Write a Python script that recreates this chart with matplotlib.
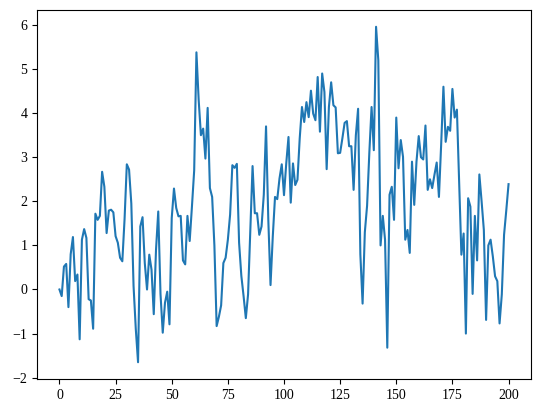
import matplotlib
matplotlib.use("Agg")
import matplotlib.pyplot as plt

plt.rcParams["font.family"] = ["Liberation Serif", "DejaVu Serif"]

# series values, one per step 0..200
values = [
    0.0, -0.15, 0.52, 0.58, -0.4, 0.8, 1.19, 0.19, 0.34, -1.13,
    1.13, 1.37, 1.17, -0.22, -0.25, -0.89, 1.72, 1.58, 1.67, 2.67,
    2.33, 1.28, 1.79, 1.81, 1.75, 1.21, 1.06, 0.72, 0.64, 1.6,
    2.84, 2.72, 1.95, 0.08, -0.9, -1.65, 1.43, 1.64, 0.6, 0.0,
    0.79, 0.45, -0.56, 0.9, 1.77, -0.1, -0.98, -0.3, -0.05, -0.79,
    1.62, 2.29, 1.85, 1.66, 1.67, 0.66, 0.57, 1.67, 1.1, 1.88,
    2.7, 5.38, 4.3, 3.5, 3.65, 2.97, 4.12, 2.3, 2.1, 1.0,
    -0.83, -0.62, -0.36, 0.6, 0.72, 1.13, 1.7, 2.82, 2.76, 2.85,
    1.06, 0.31, -0.15, -0.65, -0.11, 1.35, 2.8, 1.73, 1.73, 1.24,
    1.43, 2.15, 3.7, 1.6, 0.1, 1.2, 2.1, 2.05, 2.52, 2.84,
    2.14, 2.86, 3.46, 1.97, 2.86, 2.37, 2.49, 3.43, 4.14, 3.8,
    4.25, 3.91, 4.51, 3.99, 3.84, 4.82, 3.58, 4.9, 4.48, 2.73,
    4.14, 4.7, 4.18, 4.13, 3.09, 3.1, 3.43, 3.78, 3.82, 3.25,
    3.25, 2.26, 3.5, 4.1, 0.8, -0.32, 1.3, 1.9, 3.1, 4.14,
    3.16, 5.96, 5.2, 1.0, 1.67, 1.13, -1.32, 2.15, 2.33, 1.58,
    3.9, 2.75, 3.39, 3.01, 1.13, 1.35, 0.83, 2.9, 1.92, 2.9,
    3.48, 3.0, 2.95, 3.72, 2.26, 2.5, 2.3, 2.6, 2.88, 2.1,
    3.3, 4.6, 3.35, 3.69, 3.6, 4.55, 3.9, 4.08, 2.4, 0.79,
    1.27, -1.0, 2.07, 1.88, -0.1, 1.67, 0.66, 2.61, 2.0, 1.35,
    -0.69, 1.0, 1.13, 0.75, 0.3, 0.19, -0.77, -0.11, 1.24, 1.8,
    2.39,
]
steps = list(range(len(values)))

fig = plt.figure(figsize=(5.41, 4.15), dpi=100)
ax = fig.add_axes([37 / 541, 36 / 415, 494 / 541, 369 / 415])
ax.plot(steps, values, color="#1f77b4", lw=1.5)

ax.set_xticks([0, 25, 50, 75, 100, 125, 150, 175, 200])
ax.set_yticks([-2, -1, 0, 1, 2, 3, 4, 5, 6])

fig.savefig("out.png", dpi=100)
